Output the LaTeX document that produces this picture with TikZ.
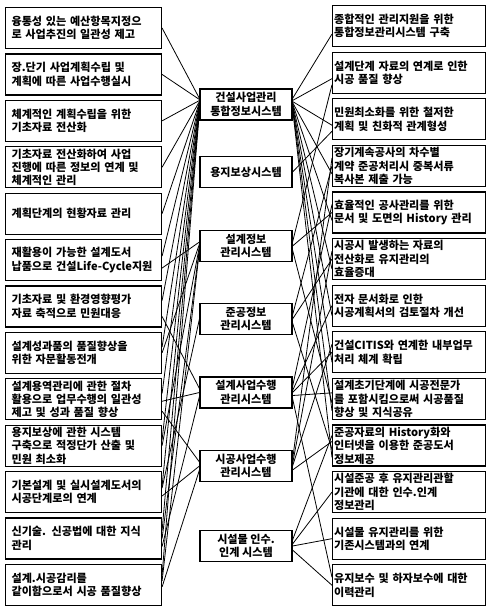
\documentclass[tikz,border=0pt]{standalone}
\usepackage{fontspec}
\setmainfont{Noto Sans CJK KR}
\usetikzlibrary{calc}
\begin{document}
\begin{tikzpicture}[x=1pt,y=-1pt,
  txt/.style={font=\bfseries\fontsize{11.1}{13.4}\selectfont},
  lbox/.style={txt,draw,line width=1.1pt,fill=white,text width=144pt,align=left,minimum height=41pt,inner xsep=6pt,inner ysep=1pt,anchor=north west},
  rbox/.style={txt,draw,line width=1.1pt,fill=white,text width=150pt,align=left,minimum height=41pt,inner xsep=1.5pt,inner ysep=1pt,anchor=north west},
  mbox/.style={txt,draw,line width=1.1pt,fill=white,minimum width=92pt,minimum height=31pt,align=center,inner sep=1pt},
  link/.style={line width=0.8pt}]
\useasboundingbox (0,0) rectangle (487,608);
% left column
\node[lbox] (L1) at (5,7) {융통성 있는 예산항목지정으\\로 사업추진의 일관성 제고};
\node[lbox] (L2) at (5,53.4) {장.단기 사업계획수립 및\\계획에 따른 사업수행실시};
\node[lbox] (L3) at (5,99.8) {체계적인 계획수립을 위한\\기초자료 전산화};
\node[lbox] (L4) at (5,146.2) {기초자료 전산화하여 사업\\진행에 따른 정보의 연계 및\\체계적인 관리};
\node[lbox] (L5) at (5,192.6) {계획단계의 현황자료 관리};
\node[lbox] (L6) at (5,239) {재활용이 가능한 설계도서\\납품으로 건설Life-Cycle지원};
\node[lbox] (L7) at (5,285.4) {기초자료 및 환경영향평가\\자료 축적으로 민원대응};
\node[lbox] (L8) at (5,331.8) {설계성과품의 품질향상을\\위한 자문활동전개};
\node[lbox] (L9) at (5,378.2) {설계용역관리에 관한 절차\\활용으로 업무수행의 일관성\\제고 및 성과 품질 향상};
\node[lbox] (L10) at (5,424.6) {용지보상에 관한 시스템\\구축으로 적정단가 산출 및\\민원 최소화};
\node[lbox] (L11) at (5,471) {기본설계 및 실시설계도서의\\시공단계로의 연계};
\node[lbox] (L12) at (5,517.4) {신기술. 신공법에 대한 지식\\관리};
\node[lbox] (L13) at (5,563.8) {설계.시공감리를\\같이함으로서 시공 품질향상};
% middle column
\node[mbox] (A) at (246,104.5) {건설사업관리\\통합정보시스템};
\node[mbox] (B) at (246,172) {용지보상시스템};
\node[mbox] (C) at (246,246) {설계정보\\관리시스템};
\node[mbox] (D) at (246,319) {준공정보\\관리시스템};
\node[mbox] (E) at (246,392.5) {설계사업수행\\관리시스템};
\node[mbox] (F) at (246,466) {시공사업수행\\관리시스템};
\node[mbox] (G) at (246,546) {시설물 인수.\\인계 시스템};
% right column
\node[rbox] (R1) at (332,5) {종합적인 관리지원을 위한\\통합정보관리시스템 구축};
\node[rbox] (R2) at (332,51.6) {설계단계 자료의 연계로 인한\\시공 품질 향상};
\node[rbox] (R3) at (332,98.2) {민원최소화를 위한 철저한\\계획 및 친화적 관계형성};
\node[rbox] (R4) at (332,144.8) {장기계속공사의 차수별\\계약 준공처리시 중복서류\\복사본 제출 가능};
\node[rbox] (R5) at (332,191.4) {효율적인 공사관리를 위한\\문서 및 도면의 History 관리};
\node[rbox] (R6) at (332,238) {시공시 발생하는 자료의\\전산화로 유지관리의\\효율증대};
\node[rbox] (R7) at (332,284.6) {전자 문서화로 인한\\시공계획서의 검토절차 개선};
\node[rbox] (R8) at (332,331.2) {건설CITIS와 연계한 내부업무\\처리 체계 확립};
\node[rbox] (R9) at (332,377.8) {설계초기단계에 시공전문가\\를 포함시킴으로써 시공품질\\향상 및 지식공유};
\node[rbox] (R10) at (332,424.4) {준공자료의 History화와\\인터넷을 이용한 준공도서\\정보제공};
\node[rbox] (R11) at (332,471) {시설준공 후 유지관리관할\\기관에 대한 인수.인계\\정보관리};
\node[rbox] (R12) at (332,517.6) {시설물 유지관리를 위한\\기존시스템과의 연계};
\node[rbox] (R13) at (332,564.2) {유지보수 및 하자보수에 대한\\이력관리};
% left connectors
\foreach \s/\ys/\t/\yt in {L1/0/A/6, L2/0/A/5, L3/0/A/4, L4/0/A/3, L5/0/A/2, L6/4/A/1, L7/6/A/0,
  L8/6/A/-1, L9/6/A/-2, L10/6/A/-3, L11/6/A/-4, L12/8/A/-5, L13/10/A/-6,
  L6/-8/C/4, L8/0/C/2, L10/0/C/0, L12/0/C/-2, L13/4/C/-4,
  L7/-10/E/4, L9/-2/E/0, L12/-8/E/-4,
  L9/-12/F/4, L11/-4/F/0, L13/-2/F/-4,
  L11/4/D/0}
  \draw[link] ([yshift=\ys pt]\s.east) -- ([yshift=\yt pt]\t.west);
% right connectors
\foreach \s/\ys/\t/\yt in {A/6/R1/-8, A/4/R2/-6, A/3/R3/-6, A/2/R4/-8, A/1/R5/-8, A/0/R6/-10,
  A/-1/R7/-10, A/-2/R8/-10, A/-3/R9/-12, A/-4/R10/-12,
  B/0/R3/-12,
  C/4/R2/-12, C/0/R5/0, C/-4/R9/-4,
  D/4/R4/0, D/0/R6/0, D/-4/R10/-4,
  E/6/R5/8, E/2/R7/0, E/0/R8/0, E/-3/R9/6, E/-6/R13/8,
  F/6/R4/8, F/2/R6/8, F/0/R8/8, F/-4/R10/4,
  G/6/R10/10, G/2/R11/0, G/0/R12/0, G/-4/R13/0}
  \draw[link] ([yshift=\ys pt]\s.east) -- ([yshift=\yt pt]\t.west);
\end{tikzpicture}
\end{document}
